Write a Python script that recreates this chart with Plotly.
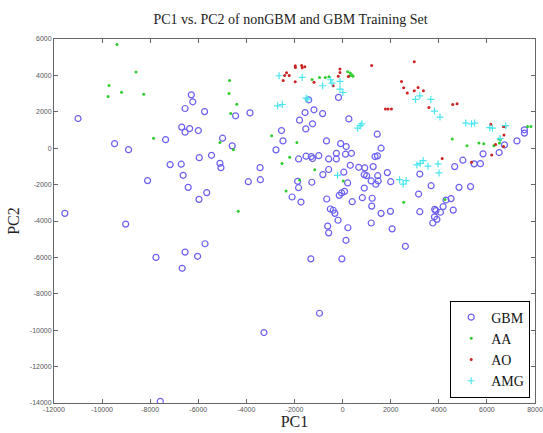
import plotly.graph_objects as go

# ---------------- data ----------------
gbm_x = [-11000, -6290, -6230, -6550, -5740, -6690, -6360, -6550, -6000, -7360,
         -9480, -8900, -5960, -7170, -6710, -5450, -6630, -8110, -6420, -5650,
         -5970, -11550, -9020, -5720, -6550, -6030, -7760, -6670, -4450, -3850,
         -1410, -170, -1190, -1560, -830, 260, -1790, -1250, -1530, -2540,
         -4990, -2480, -670, -80, 150, -4590, -2770, -260, 120, 370,
         -1830, -1520, -1300, -1250, -990, -580, -260, -5100, -5060, -3430,
         320, 670, 920, -580, -820, 50, 900, 1000, -3920, -3420,
         -1870, -1280, 210, -1830, -2100, -1730, -660, -140, -40, 80,
         400, 900, 820, -510, -390, -320, -190, -620, 220, -580,
         140, -1320, -30, 1440, 1600, 1350, 1450, 1270, 5000, 4660,
         5470, 5730, 5840, 6510, 6730, 7250, 7560, 7560, 1460, 1190,
         1480, 1380, 1860, 2000, 1230, 1210, 1600, 1990, 1190, 2060,
         2610, 3210, 3680, 3160, 3210, 3830, 3880, 4070, 4180, 4300,
         4510, 4600, 3820, 3920, 3750, 4840, 5320, -3270, -960, -7580]
gbm_y = [1630, 2930, 2550, 2180, 2010, 1160, 1080, 880, 970, 470,
         250, -80, -520, -900, -880, -390, -1490, -1780, -2150, -2440,
         -2810, -3580, -4170, -5250, -5710, -5940, -6000, -6600, 1780, 1940,
         2660, 2790, 2110, 1960, 1900, 1610, 1540, 1340, 1060, 970,
         550, 400, 400, 250, 90, 130, -90, -280, -330, -280,
         -590, -440, -460, -570, -410, -590, -590, -830, -1070, -1070,
         -940, -1050, -1080, -1170, -1450, -1320, -1450, -1510, -1840, -1730,
         -1820, -1870, -1910, -2170, -2680, -2960, -2790, -2590, -2460, -2370,
         -2940, -2190, -2720, -3340, -3410, -3580, -3960, -4280, -4370, -4650,
         -5060, -6080, -6080, 770, 0, -460, -420, -1010, -660, -1010,
         -860, -850, -310, -240, 180, 400, 1010, 830, -1510, -1800,
         -1800, -1980, -1340, -1840, -2750, -3180, -3580, -3470, -4110, -4430,
         -5390, -1420, -2060, -2520, -3490, -3360, -3430, -3520, -3210, -2850,
         -2770, -3400, -3770, -3910, -4110, -2150, -2110, -10130, -9070, -13910]

aa_x = [-9380, -8590, -9710, -9190, -9750, -8270, -7860, -4700, -4720, -4400,
        -4650, -1270, -960, -720, -570, 210, 320, 390, 430, 290,
        -2950, -1900, -2200, -2520, -5100, -4540, -1160, -1790, 30, -2350,
        -4340, 2540, 4260, 4560, 5170, 5670, 5870, 6290, 6490, 6560,
        6520, 7690, 7830]
aa_y = [5700, 4180, 3450, 3080, 2840, 2970, 550, 3720, 3010, 2420,
        1900, 3780, 3890, 3890, 3920, 4200, 4130, 4020, 3960, 3980,
        690, 310, -500, -840, 310, -90, -1190, -1750, -1800, -2350,
        -3470, -2970, -2820, 500, 140, 280, 250, 140, 510, 460,
        280, 1190, 1190]

ao_x = [-1970, -1960, -1700, -1680, -1570, -2330, -2410, -2220, -2470, -1970,
        -1190, -390, -110, -110, -180, 240, 1210, 2980, 2450, 2540,
        2690, 2980, 3140, 3360, 1780, 1890, 2030, 3590, 4580, 4760,
        6160, 6690, 6750, 6710, 6360, 6690, 6200, 4140, 5360]
ao_y = [4530, 4440, 4550, 4420, 4480, 4140, 4000, 4000, 3720, 3650,
        3630, 3430, 4350, 4160, 3960, 3940, 4550, 4750, 3670, 3320,
        3030, 3150, 3340, 3150, 2160, 2160, 2160, 2240, 2400, 2440,
        1320, 1190, 1190, 720, 200, 90, -370, -570, -770]

amg_x = [-2640, -1680, -830, -500, -440, -110, -110, 10, -1520, -1450,
         -2700, -2510, 630, 730, 800, 3030, 3210, 3670, 3820, 4050,
         5120, 5360, 5490, 6120, 6230, 6780, 6550, 3090, 3230, 3350,
         3550, 3970, 4010, 2370, 2520, 2640, -210]
amg_y = [3980, 3890, 3430, 3760, 3580, 3670, 3250, 3060, 2750, 2700,
         2330, 2400, 1100, 1240, 1340, 2680, 2880, 2680, 2040, 1710,
         1380, 1340, 1380, 1130, 1100, 1240, 530, -920, -830, -680,
         -990, -860, -1360, -1730, -1970, -1780, -1490]

x_ticks = list(range(-12000, 8001, 2000))
y_ticks = list(range(-14000, 6001, 2000))

title_text = "PC1 vs. PC2 of nonGBM and GBM Training Set"

# ---------------- figure ----------------
fig = go.Figure()
fig.add_trace(go.Scatter(x=gbm_x, y=gbm_y, mode="markers", name="GBM",
                         marker=dict(symbol="circle-open", size=6, color="#6a5ff0",
                                     line=dict(width=1.2, color="#6a5ff0"))))
fig.add_trace(go.Scatter(x=aa_x, y=aa_y, mode="markers", name="AA",
                         marker=dict(symbol="circle", size=3, color="#2ecc2e")))
fig.add_trace(go.Scatter(x=ao_x, y=ao_y, mode="markers", name="AO",
                         marker=dict(symbol="circle", size=3, color="#cc2222")))
fig.add_trace(go.Scatter(x=amg_x, y=amg_y, mode="markers", name="AMG",
                         marker=dict(symbol="cross-thin", size=5, color="#4de6f0",
                                     line=dict(width=1.2, color="#4de6f0"))))

serif = "Liberation Serif, Times New Roman, serif"
sans = "Liberation Sans, Arial, sans-serif"

axis_common = dict(showgrid=False, zeroline=False, showline=True, linecolor="#666",
                   linewidth=1, mirror="ticks", ticks="inside", ticklen=4,
                   tickcolor="#666", tickfont=dict(family=sans, size=7, color="#555"),
                   automargin=False, ticklabeloverflow="allow")

fig.update_layout(
    width=543, height=433,
    margin=dict(l=54, r=8, t=39, b=30),
    paper_bgcolor="white", plot_bgcolor="white",
    title=dict(text=title_text, x=0.535, xanchor="center", y=0.955, yanchor="middle",
               font=dict(family=serif, size=14, color="#222")),
    xaxis=dict(range=[-12000, 8000], tickvals=x_ticks,
               ticktext=[str(v) for v in x_ticks],
               title=dict(text="PC1", font=dict(family=serif, size=16, color="#222"),
                          standoff=2),
               **axis_common),
    yaxis=dict(range=[-14000, 6000], tickvals=y_ticks,
               ticktext=[str(v) for v in y_ticks],
               title=dict(text="PC2", font=dict(family=serif, size=16, color="#222"),
                          standoff=6),
               **axis_common),
    legend=dict(x=0.99, y=0.015, xanchor="right", yanchor="bottom",
                bgcolor="white", bordercolor="black", borderwidth=1,
                font=dict(family=serif, size=14, color="#111"),
                itemwidth=30, tracegroupgap=0),
    showlegend=True,
)

fig.write_html("out.html", config={"displayModeBar": False},
               post_script="document.body.style.margin='0';document.body.style.padding='0';")
